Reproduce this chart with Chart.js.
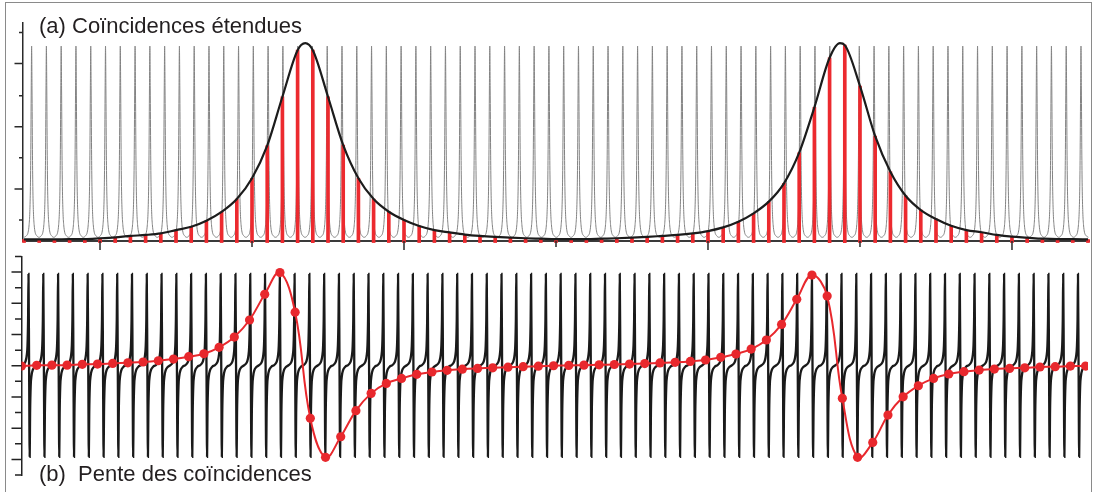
<!DOCTYPE html>
<html>
<head>
<meta charset="utf-8">
<script src="https://cdn.jsdelivr.net/npm/chart.js@4.4.1/dist/chart.umd.min.js"></script>
<style>
  body { margin: 0; background: #fff; }
  #wrap { position: relative; width: 1094px; height: 492px; overflow: hidden; font-family: "Liberation Sans", Arial, sans-serif; }
  #frame { position: absolute; left: 5px; top: 2px; width: 1087px; height: 530px; box-sizing: border-box; border: 1.5px solid #8a8a8a; }
  canvas { position: absolute; left: 0; }
  #topCanvas { top: 0; }
  #botCanvas { top: 250px; }
  .lbl { position: absolute; font-size: 22px; line-height: 22px; color: #231f20; white-space: pre; }
</style>
</head>
<body>
<div id="wrap">
  <div id="frame"></div>
  <canvas id="topCanvas" width="1094" height="255"></canvas>
  <canvas id="botCanvas" width="1094" height="242"></canvas>
  <div class="lbl" style="left:39px; top:15px;">(a) Coïncidences étendues</div>
  <div class="lbl" style="left:39px; top:463px;">(b)  Pente des coïncidences</div>
</div>
<script>
// positions of the narrow comb lines (same for both panels)
const combPeaks = [-0.4500, -0.3528, -0.2555, -0.1583, -0.0610, 0.0362, 0.1334, 0.2307, 0.3279, 0.4252,
  0.5224, 0.6196, 0.7169, 0.8141, 0.9114, 1.0086, 1.1058, 1.2031, 1.3003, 1.3976,
  1.4948, 1.5920, 1.6893, 1.7865, 1.8838, 1.9810, 2.0782, 2.1755, 2.2727, 2.3700,
  2.4672, 2.5644, 2.6617, 2.7589, 2.8562, 2.9534, 3.0506, 3.1479, 3.2451, 3.3424,
  3.4396, 3.5368, 3.6341, 3.7313, 3.8286, 3.9258, 4.0230, 4.1203, 4.2175, 4.3148,
  4.4120, 4.5092, 4.6065, 4.7037, 4.8010, 4.8982, 4.9954, 5.0927, 5.1899, 5.2872,
  5.3844, 5.4816, 5.5789, 5.6761, 5.7734, 5.8706, 5.9678, 6.0651, 6.1623, 6.2596,
  6.3568, 6.4540];

// shape of one comb line (a), offsets from its centre
const peakDx = [-0.0486, -0.033, -0.023, -0.0164, -0.0118, -0.0079, -0.0053, -0.0026, 0,
  0.0026, 0.0053, 0.0079, 0.0118, 0.0164, 0.023, 0.033, 0.0486];
const peakY = [0.019, 0.028, 0.045, 0.085, 0.15, 0.28, 0.47, 0.78, 1.0,
  0.78, 0.47, 0.28, 0.15, 0.085, 0.045, 0.028, 0.019];

// shape of one slope signal (b)
const slopeDx = [-0.0486, -0.033, -0.023, -0.0164, -0.0105, -0.0066, -0.0039, 0,
  0.0039, 0.0066, 0.0105, 0.0164, 0.023, 0.033, 0.0486];
const slopeY = [0, 0.12, 0.3, 0.6, 1.3, 3.0, 5.88, 0, -5.83, -3.0, -1.3, -0.6, -0.3, -0.12, 0];

// sampling positions (red)
const sampleX = [-0.5, -0.4, -0.3, -0.2, -0.1, 0, 0.1, 0.2, 0.3, 0.4,
  0.5, 0.6, 0.7, 0.8, 0.9, 1.0, 1.1, 1.2, 1.3, 1.4,
  1.5, 1.6, 1.7, 1.8, 1.9, 2.0, 2.1, 2.2, 2.3, 2.4,
  2.5, 2.6, 2.7, 2.8, 2.9, 3.0, 3.1, 3.2, 3.3, 3.4,
  3.5, 3.6, 3.7, 3.8, 3.9, 4.0, 4.1, 4.2, 4.3, 4.4,
  4.5, 4.6, 4.7, 4.8, 4.9, 5.0, 5.1, 5.2, 5.3, 5.4,
  5.5, 5.6, 5.7, 5.8, 5.9, 6.0, 6.1, 6.2, 6.3, 6.4, 6.5];

// (a) coincidence heights
const coincidence = [0.008, 0.008, 0.008, 0.010, 0.010, 0.014, 0.019, 0.026, 0.031, 0.039,
  0.056, 0.073, 0.104, 0.149, 0.215, 0.322, 0.489, 0.740, 0.979, 0.979,
  0.740, 0.492, 0.322, 0.215, 0.150, 0.108, 0.077, 0.056, 0.044, 0.033,
  0.026, 0.021, 0.017, 0.014, 0.012, 0.010, 0.010, 0.010, 0.012, 0.014,
  0.017, 0.021, 0.026, 0.031, 0.039, 0.051, 0.070, 0.099, 0.142, 0.202,
  0.296, 0.453, 0.686, 0.940, 1.005, 0.795, 0.538, 0.355, 0.232, 0.159,
  0.113, 0.078, 0.056, 0.045, 0.031, 0.022, 0.017, 0.012, 0.010, 0.010, 0.008];

// envelope maxima
const envPeakX = [1.35, 4.868];
const envPeakY = [1.015, 1.015];

// (b) slope of the coincidences
const slope = [-0.02, 0.03, 0.04, 0.04, 0.09, 0.11, 0.15, 0.19, 0.24, 0.32,
  0.43, 0.58, 0.77, 1.18, 1.84, 2.93, 4.58, 5.97, 3.43, -3.37,
  -5.87, -4.55, -2.88, -1.77, -1.13, -0.81, -0.55, -0.40, -0.29, -0.22,
  -0.17, -0.13, -0.09, -0.06, -0.03, 0.0, 0.02, 0.04, 0.06, 0.08,
  0.11, 0.14, 0.18, 0.22, 0.28, 0.37, 0.54, 0.75, 1.07, 1.65,
  2.65, 4.26, 5.81, 4.47, -2.09, -5.87, -4.91, -3.16, -1.99, -1.28,
  -0.81, -0.53, -0.38, -0.28, -0.21, -0.17, -0.13, -0.08, -0.06, -0.02, -0.02];

// axis tick marks (no labels)
const topYTicks = [0.108, 0.267, 0.427, 0.586, 0.745, 0.911, 1.070];
const topYMajor = [false, true, false, true, false, true, false];
const topXTicks = [0, 1, 2, 3, 4, 5, 6];
const topXMajor = [true, false, true, false, true, false, true];
const botYTicks = [-7, -6, -5, -4, -3, -2, -1, 0, 1, 2, 3, 4, 5, 6, 7];
const botYMajor = [false, true, false, true, false, true, false, true, false, true, false, true, false, true, false];

function placeShape(centres, dx, dy) {
  const pts = [];
  centres.forEach(c => {
    dx.forEach((d, i) => {
      const x = c + d;
      if (!pts.length || x > pts[pts.length - 1].x) pts.push({ x, y: dy[i] });
    });
  });
  return pts;
}

const combPts = placeShape(combPeaks, peakDx, peakY);
const dispPts = placeShape(combPeaks, slopeDx, slopeY);
const barPts = sampleX.map((x, i) => ({ x, y: coincidence[i] }));
const envPts = barPts.concat(envPeakX.map((x, i) => ({ x, y: envPeakY[i] })))
  .sort((a, b) => a.x - b.x);
const slopePts = sampleX.map((x, i) => ({ x, y: slope[i] }));

function tickMarks(cfg) {
  return {
    id: 'tickMarks',
    afterDraw(chart) {
      const ctx = chart.ctx;
      const area = chart.chartArea;
      ctx.save();
      ctx.strokeStyle = cfg.color;
      ctx.lineWidth = cfg.width;
      ctx.beginPath();
      if (cfg.yValues) {
        cfg.yValues.forEach((v, i) => {
          const p = chart.scales.y.getPixelForValue(v);
          const len = cfg.yMajor[i] ? cfg.yLong : cfg.yShort;
          ctx.moveTo(area.left, p);
          ctx.lineTo(area.left - len, p);
        });
      }
      if (cfg.xValues) {
        cfg.xValues.forEach((v, i) => {
          const p = chart.scales.x.getPixelForValue(v);
          const len = cfg.xMajor[i] ? cfg.xLong : cfg.xShort;
          ctx.moveTo(p, area.bottom);
          ctx.lineTo(p, area.bottom + len);
        });
      }
      ctx.stroke();
      ctx.restore();
    }
  };
}

const bareAxis = (min, max, border, isX) => ({
  type: 'linear', min, max,
  offset: false,
  ticks: { display: false },
  grid: { display: false, drawTicks: false, offset: false },
  border,
  afterFit: s => { if (isX) s.height = 0; else s.width = 0; }
});

new Chart(document.getElementById('topCanvas'), {
  type: 'line',
  data: {
    datasets: [
      { data: envPts, borderColor: '#1c1c1c', borderWidth: 2.2, pointRadius: 0,
        cubicInterpolationMode: 'monotone', order: 0 },
      { type: 'bar', data: barPts, backgroundColor: '#ec2a2f', barThickness: 3,
        base: -0.008, clip: false, order: 1 },
      { data: combPts, borderColor: '#838383', borderWidth: 1, pointRadius: 0,
        cubicInterpolationMode: 'monotone', order: 2 }
    ]
  },
  options: {
    responsive: false,
    animation: false,
    events: [],
    layout: { padding: { left: 22.5, right: 4.5, top: 22.7, bottom: 14 } },
    plugins: { legend: { display: false }, tooltip: { enabled: false } },
    scales: {
      x: bareAxis(-0.51, 6.51, { display: true, color: '#3a3a3a', width: 2 }, true),
      y: bareAxis(0, 1.12, { display: true, color: '#2a2a2a', width: 1.5 }, false)
    }
  },
  plugins: [tickMarks({
    color: '#2a2a2a', width: 1.5,
    yValues: topYTicks, yMajor: topYMajor, yLong: 8, yShort: 3.5,
    xValues: topXTicks, xMajor: topXMajor, xLong: 9, xShort: 6
  })]
});

new Chart(document.getElementById('botCanvas'), {
  type: 'line',
  data: {
    datasets: [
      { data: slopePts, borderColor: '#e8282d', borderWidth: 2, pointRadius: 4.6,
        pointBackgroundColor: '#e8282d', pointBorderWidth: 0, tension: 0.4, order: 0 },
      { data: dispPts, borderColor: '#1a1a1a', borderWidth: 2.3, pointRadius: 0,
        cubicInterpolationMode: 'monotone', order: 1 }
    ]
  },
  options: {
    responsive: false,
    animation: false,
    events: [],
    layout: { padding: { left: 21.5, right: 6, top: 6.5, bottom: 17 } },
    plugins: { legend: { display: false }, tooltip: { enabled: false } },
    scales: {
      x: bareAxis(-0.5, 6.516, { display: false }, true),
      y: bareAxis(-7, 7, { display: true, color: '#222', width: 1.5 }, false)
    }
  },
  plugins: [tickMarks({
    color: '#222', width: 1.5,
    yValues: botYTicks, yMajor: botYMajor, yLong: 10, yShort: 6.5
  })]
});
</script>
</body>
</html>
